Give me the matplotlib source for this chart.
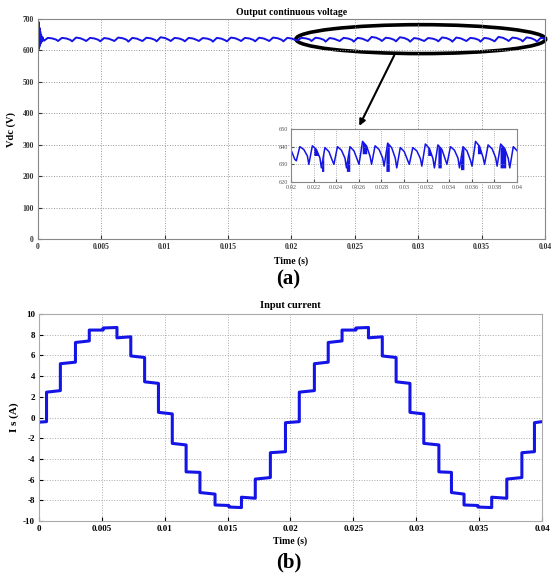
import numpy as np
import matplotlib.pyplot as plt
from matplotlib.patches import Ellipse

plt.rcParams['font.family'] = ['Liberation Serif', 'DejaVu Serif']
plt.rcParams['axes.unicode_minus'] = False

# ---- output dc voltage (a) ----
# start-up transient
start_t = [0.0, 0.00003, 0.00006, 0.00009, 0.00012, 0.00015, 0.00018, 0.00021, 0.00025, 0.0003, 0.00036, 0.00042]
start_v = [700, 602, 690, 608, 672, 615, 660, 622, 650, 628, 642, 633]

# ripple cycles (900 Hz): time of each dip, dip value, following peak value
dip_t = [0.00047, 0.00158, 0.00269, 0.0038, 0.00491, 0.00602, 0.00713, 0.00824, 0.00936,
         0.01047, 0.01158, 0.01269, 0.0138, 0.01491, 0.01602, 0.01713, 0.01824, 0.01936,
         0.02047, 0.02158, 0.02269, 0.0238, 0.02491, 0.02602, 0.02713, 0.02824, 0.02936,
         0.03047, 0.03158, 0.03269, 0.0338, 0.03491, 0.03602, 0.03713, 0.03824, 0.03936, 0.04047]
dip_v = [631, 630, 629, 630, 629, 630, 628, 630, 629, 630, 629, 630, 628, 629, 630, 629, 630, 629,
         632, 630, 628, 630, 628, 630, 630, 629, 628, 630, 629, 628, 630, 628, 629, 630, 629, 628, 630]
peak_v = [640, 640, 641, 640, 639.5, 641, 640, 640.5, 642, 640, 640, 639.5, 640, 641, 640, 640.5, 641, 640,
          640, 640.5, 639.5, 640, 640, 643, 640.5, 642, 639.5, 639.5, 641.5, 641, 640, 640, 643, 641, 641.5, 640]
# shape of one ripple cycle read from the zoom (phase in cycle, fraction dip->peak)
profile_phase = [0.0, 0.28, 0.6, 0.88]
profile_frac = [0.0, 1.0, 0.8, 0.35]

# thick switching-noise patches seen in the zoom: start, end, lowest value
noise_t0 = [0.0220, 0.0227, 0.0249, 0.0263, 0.0284, 0.0321, 0.0330, 0.0350, 0.0365, 0.0385]
noise_t1 = [0.0225, 0.0229, 0.0252, 0.0267, 0.0287, 0.0325, 0.0333, 0.0353, 0.0368, 0.0390]
noise_lo = [635, 626, 626, 636, 626, 635, 628, 627, 636, 628]

vdc_xticks = [0, 0.005, 0.01, 0.015, 0.02, 0.025, 0.03, 0.035, 0.04]
vdc_xlabels = ['0', '0.005', '0.01', '0.015', '0.02', '0.025', '0.03', '0.035', '0.04']
vdc_yticks = [0, 100, 200, 300, 400, 500, 600, 700]
zoom_xticks = [0.02, 0.022, 0.024, 0.026, 0.028, 0.03, 0.032, 0.034, 0.036, 0.038, 0.04]
zoom_xlabels = ['0.02', '0.022', '0.024', '0.026', '0.028', '0.03', '0.032', '0.034', '0.036', '0.038', '0.04']
zoom_yticks = [620, 630, 640, 650]

# ---- input current (b) ----
is_t = [0, 0.0006, 0.0017, 0.0029, 0.0040, 0.0051, 0.0062, 0.0073, 0.0084, 0.0095,
        0.0106, 0.0117, 0.0128, 0.0140, 0.0151, 0.0161, 0.0172, 0.0184, 0.0196,
        0.0207, 0.0219, 0.0230, 0.0241, 0.0252, 0.0262, 0.0273, 0.0284, 0.0295,
        0.0306, 0.0318, 0.0328, 0.0338, 0.0349, 0.0360, 0.0372, 0.0384, 0.0394, 0.0400]
is_start = [-0.45, 2.45, 5.2, 7.25, 8.45, 8.65, 7.7, 5.95, 3.45,
            0.5, -2.5, -5.25, -7.25, -8.45, -8.65, -7.7, -5.95, -3.4,
            -0.5, 2.45, 5.2, 7.25, 8.45, 8.65, 7.7, 5.95, 3.45,
            0.5, -2.5, -5.25, -7.25, -8.45, -8.65, -7.7, -5.95, -3.4, -0.5]
is_end = [-0.4, 2.6, 5.35, 7.4, 8.45, 8.7, 7.8, 5.8, 3.3,
          0.35, -2.65, -5.3, -7.4, -8.5, -8.7, -7.8, -5.8, -3.3,
          -0.4, 2.6, 5.35, 7.4, 8.45, 8.7, 7.8, 5.8, 3.3,
          0.35, -2.65, -5.3, -7.4, -8.5, -8.7, -7.8, -5.8, -3.3, -0.4]
is_xticks = [0, 0.005, 0.01, 0.015, 0.02, 0.025, 0.03, 0.035, 0.04]
is_yticks = [-10, -8, -6, -4, -2, 0, 2, 4, 6, 8, 10]

blue = '#1414e6'

# build voltage polyline from the read cycle values
vt = list(start_t)
vv = list(start_v)
for k in range(len(peak_v)):
    period = dip_t[k + 1] - dip_t[k]
    for ph, fr in zip(profile_phase, profile_frac):
        vt.append(dip_t[k] + ph * period)
        vv.append(dip_v[k] + fr * (peak_v[k] - dip_v[k]))
vt.append(dip_t[-1])
vv.append(dip_v[-1])
vt = np.array(vt)
vv = np.array(vv)

fig = plt.figure(figsize=(5.53, 5.78), dpi=100)

ax1 = fig.add_axes([0.0687, 0.5865, 0.9168, 0.3806])
ax1.plot(vt, vv, color=blue, lw=1.4)
ax1.set_xlim(0, 0.04)
ax1.set_ylim(0, 700)
ax1.set_xticks(vdc_xticks)
ax1.set_xticklabels(vdc_xlabels)
ax1.set_yticks(vdc_yticks)
ax1.tick_params(direction='in', length=3, labelsize=5.5, colors='#333333', pad=3)
for lab in ax1.get_xticklabels() + ax1.get_yticklabels():
    lab.set_fontweight('bold')
ax1.grid(True, ls=':', color='#999999', lw=0.7)
for s in ax1.spines.values():
    s.set_color('#888888')
ax1.set_title('Output continuous voltage', fontsize=7, fontweight='bold', pad=3)
ax1.set_xlabel('Time (s)', fontsize=7, fontweight='bold', labelpad=4)
ax1.set_ylabel('Vdc (V)', fontsize=7.5, fontweight='bold', labelpad=5)

ax1.add_patch(Ellipse((0.0302, 636), 0.0197, 92, fill=False, lw=2.6, color='black', clip_on=False))
ax1.annotate('', xy=(0.02525, 352), xytext=(0.0282, 592),
             arrowprops=dict(arrowstyle='-|>', lw=1.5, color='black', mutation_scale=9))

ax2 = fig.add_axes([0.5262, 0.6851, 0.4087, 0.0917])
ax2.plot(vt, vv, color=blue, lw=1.1)
for t0, t1, lo in zip(noise_t0, noise_t1, noise_lo):
    xs = np.linspace(t0, t1, 6)
    ax2.fill_between(xs, lo, np.interp(xs, vt, vv), color=blue, lw=0)
ax2.set_xlim(0.02, 0.04)
ax2.set_ylim(620, 650)
ax2.set_xticks(zoom_xticks)
ax2.set_xticklabels(zoom_xlabels)
ax2.set_yticks(zoom_yticks)
ax2.tick_params(direction='in', length=2, labelsize=4.5, colors='#555555', pad=2)
ax2.grid(True, ls=':', color='#999999', lw=0.6)
for s in ax2.spines.values():
    s.set_color('#888888')

fig.text(0.522, 0.517, '(a)', fontsize=15, fontweight='bold', ha='center', va='center')

# build staircase current
ct = []
cv = []
for k in range(len(is_start)):
    ct += [is_t[k], is_t[k + 1]]
    cv += [is_start[k], is_end[k]]

ax3 = fig.add_axes([0.0705, 0.0986, 0.9096, 0.3581])
ax3.plot(ct, cv, color=blue, lw=2.2, solid_joinstyle='round')
ax3.set_xlim(0, 0.04)
ax3.set_ylim(-10, 10)
ax3.set_xticks(is_xticks)
ax3.set_xticklabels(['0', '0.005', '0.01', '0.015', '0.02', '0.025', '0.03', '0.035', '0.04'])
ax3.set_yticks(is_yticks)
ax3.tick_params(direction='in', length=3, labelsize=6.5, pad=3)
for lab in ax3.get_xticklabels() + ax3.get_yticklabels():
    lab.set_fontweight('bold')
ax3.grid(True, ls=':', color='#aaaaaa', lw=0.7)
for s in ax3.spines.values():
    s.set_color('#aaaaaa')
ax3.set_title('Input current', fontsize=7.5, fontweight='bold', pad=4)
ax3.set_xlabel('Time (s)', fontsize=7, fontweight='bold', labelpad=2)
ax3.set_ylabel('I s (A)', fontsize=8, fontweight='bold', labelpad=3)

fig.text(0.522, 0.026, '(b)', fontsize=15, fontweight='bold', ha='center', va='center')

fig.savefig('out.png', dpi=100)
